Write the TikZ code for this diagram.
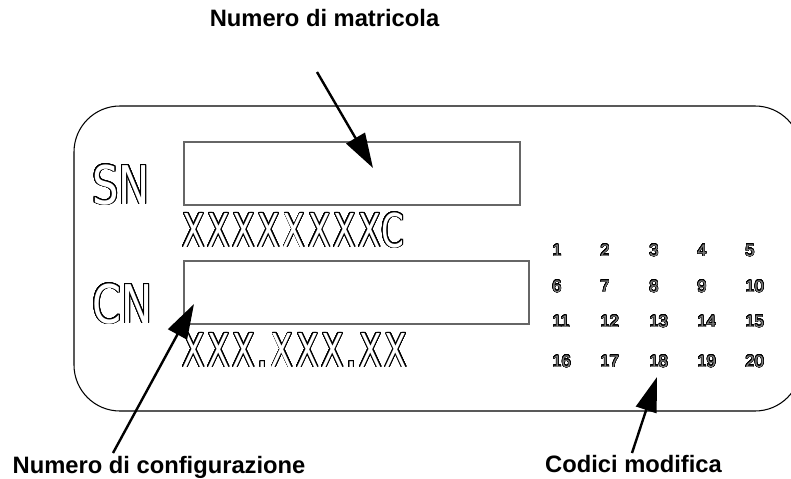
\documentclass[tikz,border=0pt]{standalone}
\usepackage{fontspec}
\setmainfont{Liberation Sans}
\newfontfamily\platefont[FakeStretch=0.78]{DejaVu Sans}
\newfontfamily\codefont[FakeStretch=0.7,LetterSpace=6]{DejaVu Sans}
\usepackage{contour}
\usetikzlibrary{arrows.meta}
\contournumber{32}
\newcommand{\hollowtext}[1]{{\contourlength{0.7pt}\contour{black}{#1}}}
\newcommand{\digitmark}[1]{{\contourlength{0.35pt}\contour{black}{#1}}}
\begin{document}
\begin{tikzpicture}[x=0.75pt,y=-0.75pt,
  plate/.style={draw=black,line width=0.8pt,rounded corners=34.5pt},
  fieldbox/.style={draw=black!60,line width=1.2pt,inner sep=0pt,anchor=north west,minimum height=47.25pt},
  engrave/.style={anchor=base west,inner sep=0pt,text=white},
  bigmark/.style={engrave,font=\platefont\fontsize{40}{40}\selectfont},
  codemark/.style={engrave,font=\codefont\fontsize{35}{35}\selectfont},
  digitstyle/.style={anchor=base west,inner sep=0pt,text=black!50,font=\fontsize{12.6}{14}\selectfont},
  callout/.style={anchor=base,inner sep=0pt,font=\bfseries\fontsize{17.8}{20}\selectfont},
  pointer/.style={line width=1.8pt,-{Triangle[length=26pt,width=16pt]}}]
\clip (0,0) rectangle (791,478);
% plate
\draw[plate] (74,106) rectangle (801,411);
% fields
\node[fieldbox,minimum width=252pt] (snbox) at (183,141) {};
\node[fieldbox,minimum width=258.75pt] (cnbox) at (183,260) {};
% engraved texts
\node[bigmark] (sn) at (92,204) {\hollowtext{SN}};
\node[bigmark] (cn) at (92,323) {\hollowtext{CN}};
\node[codemark] (snx) at (182,247) {\hollowtext{XXXXXXXXC}};
\node[codemark] (cnx) at (182,367) {\hollowtext{XXX.XXX.XX}};
% modification codes
\foreach \yy [count=\r from 0] in {256,292,327,367}{
  \foreach \xx [count=\c] in {553,601,650,698,746}{
    \pgfmathtruncatemacro{\n}{\r*5+\c}
    \node[digitstyle] (d\n) at (\xx-1,\yy) {\digitmark{\n}};
  }
}
% callouts
\node[callout] (lm) at (324.5,27) {Numero di matricola};
\node[callout] (lc) at (159,473) {Numero di configurazione};
\node[callout] (lk) at (633.5,472) {Codici modifica};
% arrows
\coordinate (m0) at (317,72);
\coordinate (m1) at (373,168);
\coordinate (c0) at (113,453);
\coordinate (c1) at (194,304);
\coordinate (k0) at (632,453);
\coordinate (k1) at (657,377);
\draw[pointer] (m0) -- (m1);
\draw[pointer] (c0) -- (c1);
\draw[pointer] (k0) -- (k1);
\end{tikzpicture}
\end{document}
